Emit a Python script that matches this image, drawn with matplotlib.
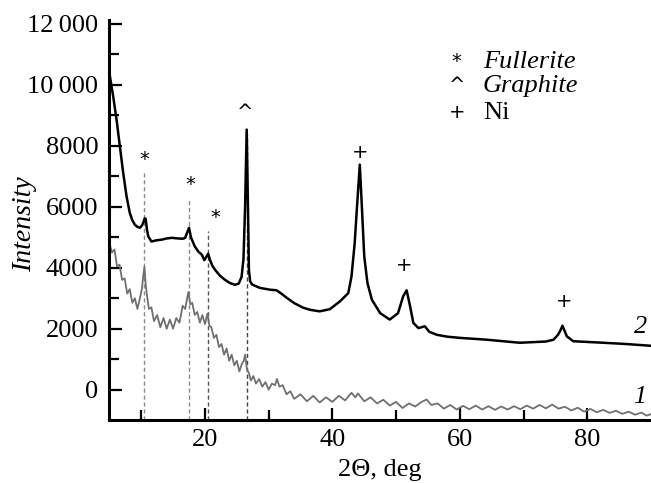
import matplotlib.pyplot as plt
import numpy as np

plt.rcParams['font.family'] = ['Liberation Serif', 'DejaVu Serif']

# curve 2 (black)
theta2 = [5.0, 5.3, 5.6, 6.13, 6.65, 7.17, 7.7, 8.2, 8.6, 9.0, 9.4, 9.8, 10.1, 10.3, 10.55, 10.7,
          10.9, 11.1, 11.6, 12.4, 13.2, 14.0, 14.8, 15.8, 16.5, 16.9, 17.2, 17.5, 17.8, 18.4,
          19.0, 19.5, 19.9, 20.2, 20.5, 20.8, 21.2, 21.6, 22.3, 23.1, 23.9, 24.7, 25.3, 25.75,
          26.05, 26.3, 26.55, 26.75, 26.9, 27.1, 27.4, 28.6, 30.2, 31.25, 32.0, 32.8, 34.0,
          35.4, 36.5, 38.0, 39.6, 41.2, 42.5, 43.0, 43.5, 43.9, 44.3, 44.65, 45.0, 45.5, 46.2,
          47.5, 49.0, 50.3, 51.1, 51.65, 52.2, 52.7, 53.5, 54.5, 55.2, 56.4, 58.0, 60.0, 64.2,
          69.4, 73.5, 74.7, 75.4, 75.8, 76.1, 76.5, 76.8, 77.8, 82.5, 86.0, 90.0]
int2 = [10390, 10000, 9620, 8850, 7980, 7110, 6340, 5800, 5560, 5410, 5340, 5310, 5380, 5470, 5620, 5600,
        5250, 5030, 4860, 4900, 4920, 4960, 4980, 4960, 4950, 4980, 5150, 5310, 5000, 4700,
        4520, 4430, 4250, 4350, 4460, 4250, 4050, 3930, 3750, 3610, 3500, 3440, 3480, 3700,
        4300, 6000, 8530, 6000, 3930, 3550, 3450, 3340, 3280, 3260, 3150, 3020, 2840,
        2690, 2620, 2570, 2640, 2900, 3170, 3720, 4810, 6120, 7380, 5900, 4370, 3500, 2950,
        2510, 2300, 2510, 3060, 3260, 2730, 2190, 2020, 2080, 1900, 1800, 1740, 1700, 1640,
        1540, 1580, 1640, 1800, 1950, 2100, 1900, 1750, 1590, 1540, 1500, 1440]

# curve 1 (gray, noisy)
theta1 = [5.0, 5.4, 5.8, 6.2, 6.6, 7.0, 7.4, 7.8, 8.2, 8.6, 9.0, 9.4, 9.8, 10.1, 10.3, 10.5, 10.7,
          10.9, 11.2, 11.6, 12.0, 12.5, 13.0, 13.5, 14.0, 14.5, 15.0, 15.5, 16.0, 16.5, 16.9,
          17.2, 17.4, 17.7, 18.0, 18.4, 18.8, 19.2, 19.6, 20.0, 20.4, 20.7, 21.0, 21.4, 21.8,
          22.2, 22.6, 23.0, 23.4, 23.8, 24.2, 24.6, 25.0, 25.4, 25.8, 26.1, 26.3, 26.6, 26.9,
          27.2, 27.6, 28.0, 28.5, 29.0, 29.5, 30.0, 30.5, 31.0, 31.3, 31.7, 32.2, 32.8, 33.4,
          34.0, 35.0, 36.0, 37.0, 38.0, 39.0, 40.0, 41.0, 42.0, 43.0, 43.6, 44.0, 45.0, 46.0,
          47.0, 48.0, 49.0, 50.0, 51.0, 52.0, 53.0, 54.0, 54.8, 55.5, 56.5, 57.5, 58.5, 59.5,
          60.5, 61.5, 62.5, 63.5, 64.5, 65.5, 66.5, 67.5, 68.5, 69.5, 70.5, 71.5, 72.5, 73.5,
          74.5, 75.5, 76.5, 77.5, 78.5, 79.5, 80.5, 81.5, 82.5, 83.5, 84.5, 85.5, 86.5, 87.5,
          88.5, 89.3, 90.0]
int1 = [4820, 4500, 4600, 4050, 4100, 3600, 3650, 3150, 3300, 2850, 3000, 2650, 3000, 3300, 3700, 4040, 3450,
        3100, 2650, 2700, 2250, 2450, 2050, 2350, 2000, 2300, 2000, 2350, 2200, 2750, 2650,
        3000, 3200, 2800, 2850, 2450, 2550, 2200, 2450, 2150, 2500, 2100, 2050, 1700, 1800,
        1400, 1500, 1150, 1350, 950, 1150, 800, 950, 600, 850, 950, 1150, 650, 550,
        300, 450, 200, 350, 100, 250, 0, 200, 150, 350, 100, 150, -150, -50,
        -300, -150, -380, -200, -420, -250, -400, -200, -350, -100, -250, -120, -380, -250,
        -450, -330, -520, -400, -600, -450, -550, -400, -320, -500, -450, -620, -500, -650,
        -530, -640, -520, -650, -540, -660, -550, -650, -540, -640, -520, -620, -500, -610,
        -490, -620, -560, -680, -590, -720, -630, -740, -660, -760, -690, -790, -720, -820,
        -750, -850, -800]

# dashed reference lines: position, top
ref_x = [10.47, 17.48, 20.5, 26.54]
ref_top = [7210, 6260, 5210, 8400]
ref_col = ['#8a8a8a', '#8a8a8a', '#555555', '#444444']

# peak marks
mark_x = [10.5, 17.7, 21.7, 26.3, 44.3, 51.2, 76.4]
mark_y = [7540, 6720, 5640, 9080, 7770, 4070, 2890]
mark_s = ['*', '*', '*', '^', '+', '+', '+']

legend_sym = ['*', '^', '+']
legend_txt = ['Fullerite', 'Graphite', 'Ni']
legend_ital = [True, True, False]
legend_y = [10750, 9970, 9080]

yticks = [0, 2000, 4000, 6000, 8000, 10000, 12000]
ylabels = ['0', '2000', '4000', '6000', '8000', '10\u2009000', '12\u2009000']

fig = plt.figure(figsize=(6.51, 4.83), dpi=100)
ax = fig.add_axes([0.168, 0.130, 0.832, 0.829])

for x, top, c in zip(ref_x, ref_top, ref_col):
    ax.plot([x, x], [-1000, top], color=c, lw=1.0, ls=(0, (3, 2)), zorder=1)

ax.plot(theta1, int1, color='#707070', lw=1.3, zorder=2)
ax.plot(theta2, int2, color='black', lw=1.8, zorder=3)

for x, y, s in zip(mark_x, mark_y, mark_s):
    ax.text(x, y, s, ha='center', va='center', fontsize=14, family='DejaVu Sans')

for s, t, it, y in zip(legend_sym, legend_txt, legend_ital, legend_y):
    ax.text(59.5, y, s, ha='center', va='center', fontsize=14, family='DejaVu Sans')
    ax.text(63.6, y, t, ha='left', va='center', fontsize=19,
            style='italic' if it else 'normal')

ax.text(88.3, 2070, '2', ha='center', va='center', fontsize=19, style='italic')
ax.text(88.3, -230, '1', ha='center', va='center', fontsize=19, style='italic')

ax.set_xlim(5, 90)
ax.set_ylim(-1000, 12130)
ax.set_xticks([20, 40, 60, 80])
ax.set_xticks([10, 30, 50, 70], minor=True)
ax.set_yticks(yticks)
ax.set_yticklabels(ylabels)
ax.set_yticks(np.arange(1000, 12000, 2000), minor=True)
ax.tick_params(which='both', direction='in', labelsize=19, width=1.6, top=False, right=False)
ax.tick_params(which='major', length=9)
ax.tick_params(which='minor', length=7)
ax.tick_params(axis='y', pad=8)
ax.tick_params(axis='x', pad=6)
for side in ['top', 'right']:
    ax.spines[side].set_visible(False)
for side in ['left', 'bottom']:
    ax.spines[side].set_linewidth(2.2)

ax.set_xlabel('2\u0398, deg', fontsize=19, labelpad=6)
ax.set_ylabel('Intensity', fontsize=20, style='italic')
ax.yaxis.set_label_coords(-0.134, 0.49)

fig.savefig('out.png', dpi=100)
